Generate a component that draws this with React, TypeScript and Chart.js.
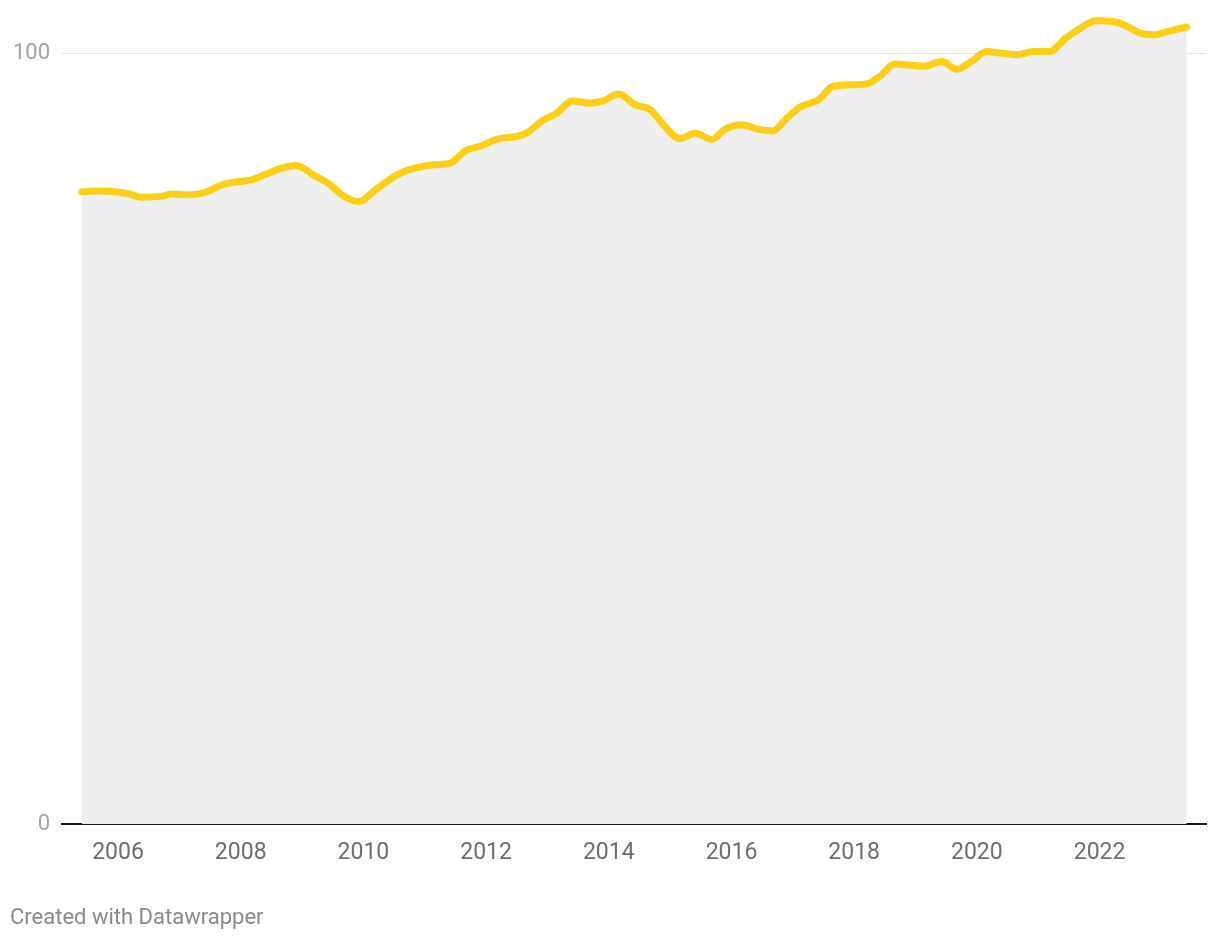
import React, { useEffect, useRef } from "react";
import { Chart, registerables } from "chart.js";

Chart.register(...registerables);

const years: number[] = [
  2005.41, 2005.71, 2006.14, 2006.39, 2006.69, 2006.88, 2007.17, 2007.42, 2007.66, 2007.94,
  2008.15, 2008.42, 2008.64, 2008.91, 2008.99, 2009.18, 2009.43, 2009.67, 2009.92, 2010.22,
  2010.6, 2011.14, 2011.41, 2011.68, 2011.9, 2012.17, 2012.63, 2012.93, 2013.15, 2013.4,
  2013.69, 2013.91, 2014.16, 2014.43, 2014.67, 2014.89, 2015.16, 2015.41, 2015.68, 2015.89,
  2016.17, 2016.44, 2016.68, 2016.87, 2017.12, 2017.41, 2017.66, 2018.2, 2018.42, 2018.66,
  2019.13, 2019.43, 2019.67, 2019.91, 2020.16, 2020.4, 2020.67, 2020.92, 2021.19, 2021.44,
  2021.68, 2021.93, 2022.22, 2022.44, 2022.66, 2022.9, 2023.15, 2023.42,
];

const values: number[] = [
  82.1, 82.2, 81.9, 81.4, 81.5, 81.8, 81.7, 82.0, 82.9, 83.4,
  83.6, 84.4, 85.1, 85.5, 85.3, 84.3, 83.2, 81.6, 80.8, 82.5,
  84.5, 85.6, 85.8, 87.5, 88.0, 88.9, 89.6, 91.4, 92.3, 93.9,
  93.6, 93.9, 94.8, 93.4, 92.8, 90.8, 89.0, 89.7, 88.9, 90.2,
  90.8, 90.2, 90.0, 91.4, 93.1, 94.0, 95.8, 96.1, 97.1, 98.7,
  98.4, 99.0, 98.0, 99.0, 100.3, 100.1, 99.9, 100.3, 100.3, 102.0,
  103.3, 104.3, 104.2, 103.6, 102.7, 102.5, 103.0, 103.5,
];

const xTickYears: number[] = [2006, 2008, 2010, 2012, 2014, 2016, 2018, 2020, 2022];
const yTickValues: number[] = [0, 100];

const FONT = "Roboto, 'Noto Sans', sans-serif";

export default function App() {
  const ref = useRef<HTMLCanvasElement | null>(null);

  useEffect(() => {
    document.body.style.margin = "0";
    const canvas = ref.current;
    if (!canvas) return;
    const chart = new Chart(canvas, {
      type: "line",
      data: {
        datasets: [
          {
            data: years.map((y, i) => ({ x: y, y: values[i] })),
            borderColor: "#fbcf16",
            backgroundColor: "#efefef",
            borderWidth: 7,
            borderCapStyle: "round",
            borderJoinStyle: "round",
            fill: "origin",
            pointRadius: 0,
            cubicInterpolationMode: "monotone",
            clip: false,
          } as any,
        ],
      },
      options: {
        animation: false,
        responsive: false,
        maintainAspectRatio: false,
        layout: { padding: { left: 0, right: 14, top: 0, bottom: 0 } },
        plugins: { legend: { display: false }, tooltip: { enabled: false } },
        scales: {
          x: {
            type: "linear",
            min: 2005.087,
            max: 2023.735,
            afterBuildTicks: (scale: any) => {
              scale.ticks = xTickYears.map((v) => ({ value: v }));
            },
            afterFit: (scale: any) => {
              scale.height = 116;
              scale.paddingLeft = 0;
              scale.paddingRight = 0;
            },
            grid: { display: false, drawTicks: false },
            border: { display: true, color: "#1a1a1a", width: 2 },
            ticks: {
              color: "#6e6e6e",
              font: { family: FONT, size: 23 },
              padding: 15,
              maxRotation: 0,
              autoSkip: false,
              callback: (v: any) => String(v),
            },
          },
          y: {
            type: "linear",
            min: 0,
            max: 107.0,
            afterBuildTicks: (scale: any) => {
              scale.ticks = yTickValues.map((v) => ({ value: v }));
            },
            afterFit: (scale: any) => {
              scale.width = 62;
              scale.paddingTop = 0;
              scale.paddingBottom = 0;
            },
            grid: {
              drawTicks: false,
              color: (ctx: any) => (ctx.tick && ctx.tick.value === 100 ? "#e2e2e2" : "rgba(0,0,0,0)"),
              lineWidth: 1,
            },
            border: { display: false },
            ticks: {
              color: "#a3a3a3",
              font: { family: FONT, size: 22 },
              padding: 12,
              callback: (v: any) => String(v),
            },
          },
        },
      },
    });
    return () => chart.destroy();
  }, []);

  return (
    <div style={{ position: "relative", width: 1220, height: 940, background: "#fff" }}>
      <canvas ref={ref} width={1220} height={940} style={{ position: "absolute", left: 0, top: 0 }} />
      <div
        style={{
          position: "absolute",
          left: 10,
          top: 906,
          fontFamily: FONT,
          fontSize: 22,
          lineHeight: "22px",
          color: "#8a8a8a",
          whiteSpace: "nowrap",
        }}
      >
        Created with Datawrapper
      </div>
    </div>
  );
}
